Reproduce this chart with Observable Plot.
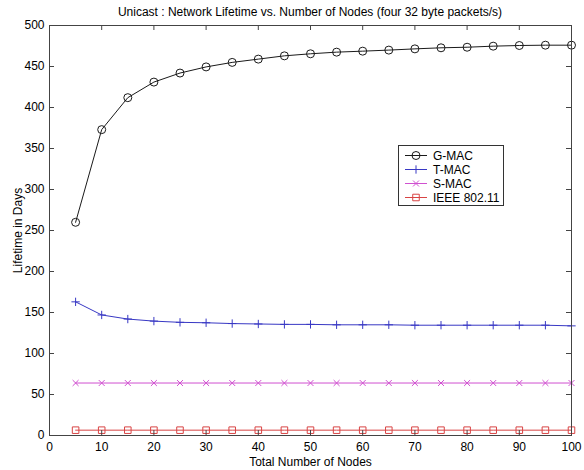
<!DOCTYPE html>
<html>
<head>
<meta charset="utf-8">
<script src="https://cdn.jsdelivr.net/npm/d3@7"></script>
<script src="https://cdn.jsdelivr.net/npm/@observablehq/plot@0.6"></script>
<style>
  html, body { margin: 0; padding: 0; background: #fff; }
  #wrap { position: relative; width: 584px; height: 470px; font-family: "Liberation Sans", Arial, sans-serif; }
  #chart { position: absolute; left: 0; top: 0; }
  #title { position: absolute; left: 49px; width: 522px; top: 5px; text-align: center; font-size: 12px; color: #000; }
  #legend { position: absolute; left: 0; top: 0; }
</style>
</head>
<body>
<div id="wrap">
  <div id="chart"></div>
  <div id="title">Unicast : Network Lifetime vs. Number of Nodes (four 32 byte packets/s)</div>
  <svg id="legend" width="584" height="470"></svg>
</div>
<script>
const nodes = [5,10,15,20,25,30,35,40,45,50,55,60,65,70,75,80,85,90,95,100];
const gmac  = [260,373,412,431,442,449.5,455,459,463,465.5,467.5,468.7,470,471.5,472.8,473.5,474.8,475.6,476,476];
const tmac  = [163,147,142,139.5,138,137.5,136.5,136,135.5,135.5,135,135,135,134.5,134.5,134.5,134.5,134.5,134.5,133.7];
const smac  = [64,64,64,64,64,64,64,64,64,64,64,64,64,64,64,64,64,64,64,64];
const ieee  = [6.5,6.5,6.5,6.5,6.5,6.5,6.5,6.5,6.5,6.5,6.5,6.5,6.5,6.5,6.5,6.5,6.5,6.5,6.5,6.5];
const seriesNames = ["G-MAC","T-MAC","S-MAC","IEEE 802.11"];
const seriesColors = ["#1a1a1a","#3838c4","#d050d0","#d84444"];
const seriesSymbols = ["circle","plus","times","square"];
const xTicks = [0,10,20,30,40,50,60,70,80,90,100];
const yTicks = [0,50,100,150,200,250,300,350,400,450,500];

const allValues = [gmac, tmac, smac, ieee];
const data = [];
allValues.forEach((vals, si) => vals.forEach((v, i) => data.push({series: seriesNames[si], x: nodes[i], y: v})));

const W = 584, H = 470;
const mL = 49, mR = 13, mT = 25, mB = 35;
const innerW = W - mL - mR, innerH = H - mT - mB;
const tickLen = 5;
const axisColor = "#444";

const symR = {"G-MAC": 4, "T-MAC": 2.8, "S-MAC": 2.8, "IEEE 802.11": 3.7};

const marks = [];
seriesNames.forEach((name, si) => {
  const d = data.filter(r => r.series === name);
  marks.push(Plot.line(d, {x: "x", y: "y", stroke: seriesColors[si], strokeWidth: 1}));
  marks.push(Plot.dot(d, {x: "x", y: "y", stroke: seriesColors[si], fill: "none", strokeWidth: 1, symbol: () => seriesSymbols[si], r: symR[name]}));
});
// inward ticks on four sides
marks.push(Plot.tickX(xTicks, {x: d => d, insetTop: innerH - tickLen, stroke: axisColor}));
marks.push(Plot.tickX(xTicks, {x: d => d, insetBottom: innerH - tickLen, stroke: axisColor}));
marks.push(Plot.tickY(yTicks, {y: d => d, insetRight: innerW - tickLen, stroke: axisColor}));
marks.push(Plot.tickY(yTicks, {y: d => d, insetLeft: innerW - tickLen, stroke: axisColor}));
marks.push(Plot.frame({stroke: axisColor, strokeWidth: 1}));

const chart = Plot.plot({
  width: W, height: H,
  marginLeft: mL, marginRight: mR, marginTop: mT, marginBottom: mB,
  style: {fontFamily: "'Liberation Sans', Arial, sans-serif", fontSize: "12px", color: "#000", background: "#fff"},
  x: {domain: [0, 100], ticks: xTicks, tickSize: 0, tickPadding: 7, label: "Total Number of Nodes", labelAnchor: "center", labelOffset: 30, labelArrow: "none"},
  y: {domain: [0, 500], ticks: yTicks, tickSize: 0, tickPadding: 5, label: "Lifetime in Days", labelAnchor: "center", labelOffset: 36, labelArrow: "none"},
  marks
});
document.getElementById("chart").appendChild(chart);

// legend
const lg = d3.select("#legend");
const bx = 398.5, by = 145.5, bw = 105, bh = 60;
lg.append("rect").attr("x", bx).attr("y", by).attr("width", bw).attr("height", bh)
  .attr("fill", "#fff").attr("stroke", "#333").attr("stroke-width", 1);
const symMap = {circle: d3.symbolCircle, plus: d3.symbolPlus, times: d3.symbolTimes, square: d3.symbolSquare};
seriesNames.forEach((name, si) => {
  const cy = 155 + si * 14;
  const g = lg.append("g");
  g.append("line").attr("x1", 405).attr("x2", 427).attr("y1", cy + 0.5).attr("y2", cy + 0.5)
    .attr("stroke", seriesColors[si]).attr("stroke-width", 1);
  const r = symR[name];
  g.append("path").attr("d", d3.symbol(symMap[seriesSymbols[si]], Math.PI * r * r)())
    .attr("transform", `translate(416,${cy + 0.5})`).attr("fill", "none")
    .attr("stroke", seriesColors[si]).attr("stroke-width", 1);
  g.append("text").attr("x", 433).attr("y", cy + 4.5).attr("font-size", 12)
    .attr("font-family", "'Liberation Sans', Arial, sans-serif").attr("fill", "#000").text(name);
});
</script>
</body>
</html>
